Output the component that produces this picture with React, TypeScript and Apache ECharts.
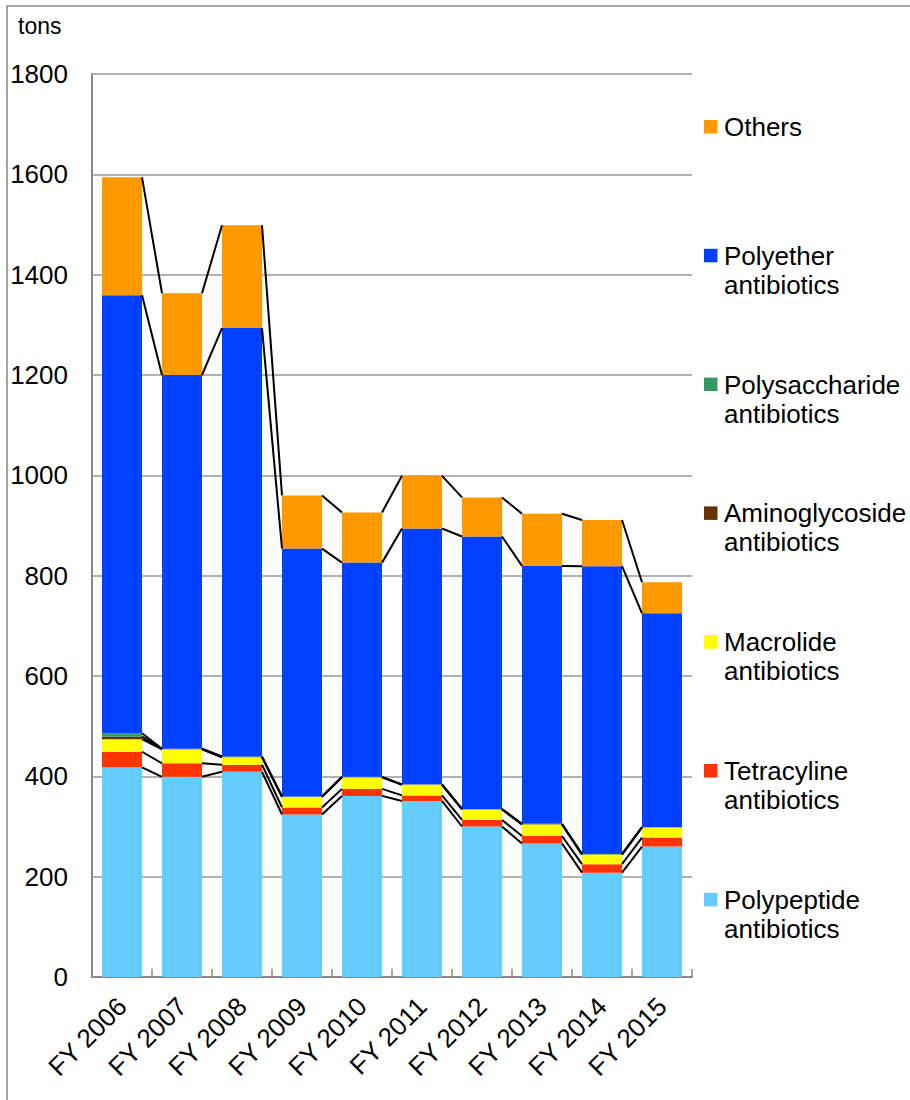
import React, { useEffect, useRef } from "react";
import * as echarts from "echarts";

const categories = ["FY 2006", "FY 2007", "FY 2008", "FY 2009", "FY 2010", "FY 2011", "FY 2012", "FY 2013", "FY 2014", "FY 2015"];

const polypeptide = [418, 399, 409, 324, 361, 351, 300, 266, 208, 260];
const tetracyline = [31, 27, 14, 14, 14, 11, 13, 15, 17, 18];
const macrolide = [25, 28, 15, 21, 23, 21, 21, 23, 19, 20];
const aminoglycoside = [5, 0.5, 0.5, 0.5, 0.5, 0.5, 0.5, 0.5, 0.5, 0.5];
const polysaccharide = [7, 0.5, 1, 0.5, 0.5, 0.5, 0.5, 1, 0.5, 0.5];
const polyether = [873, 745, 854, 494, 427, 510, 543, 514, 574, 426];
const others = [235, 163, 205, 106, 100, 105, 78, 104, 92, 62];

const yTicks = { min: 0, max: 1800, interval: 200 };
const unitLabel = "tons";

const seriesDefs = [
  { name: "Polypeptide\nantibiotics", data: polypeptide, color: "#66CCFF" },
  { name: "Tetracyline\nantibiotics", data: tetracyline, color: "#FF3300" },
  { name: "Macrolide\nantibiotics", data: macrolide, color: "#FFFF00" },
  { name: "Aminoglycoside\nantibiotics", data: aminoglycoside, color: "#663300" },
  { name: "Polysaccharide\nantibiotics", data: polysaccharide, color: "#339966" },
  { name: "Polyether\nantibiotics", data: polyether, color: "#0040FF" },
  { name: "Others", data: others, color: "#FF9900" },
];

const FONT = '"Liberation Sans", Arial, sans-serif';

export default function App() {
  const ref = useRef<HTMLDivElement>(null);
  useEffect(() => {
    document.body.style.margin = "0";
    const chart = echarts.init(ref.current!, undefined, { renderer: "svg" });

    const cum: number[][] = [];
    seriesDefs.forEach((s, k) => {
      cum.push(s.data.map((v, i) => (k === 0 ? 0 : cum[k - 1][i]) + v));
    });

    const bars = seriesDefs.map((s) => ({
      type: "bar",
      name: s.name,
      stack: "total",
      data: s.data,
      barWidth: "66.67%",
      itemStyle: { color: s.color },
      emphasis: { disabled: true },
    }));

    const seriesLines = {
      type: "custom",
      name: "series lines",
      coordinateSystem: "cartesian2d",
      data: categories.slice(0, -1).map((_, i) => [i, 0]),
      encode: { x: 0, y: 1 },
      silent: true,
      z: 5,
      renderItem: (params: any, api: any) => {
        const i = api.value(0);
        const band = api.size([1, 0])[0];
        const half = (band * 0.6667) / 2;
        const children = cum.map((lv) => {
          const a = api.coord([i, lv[i]]);
          const b = api.coord([i + 1, lv[i + 1]]);
          return {
            type: "line",
            shape: { x1: a[0] + half, y1: a[1], x2: b[0] - half, y2: b[1] },
            style: { stroke: "#000", lineWidth: 2 },
          };
        });
        return { type: "group", children };
      },
    };

    const legendItems: any[] = [];
    const order = [...seriesDefs].reverse();
    order.forEach((s, k) => {
      const cy = 127 + k * 128.8;
      legendItems.push({
        type: "rect",
        shape: { x: 704, y: cy - 7, width: 13.5, height: 13.5 },
        style: { fill: s.color },
      });
      legendItems.push({
        type: "text",
        x: 724,
        y: cy - 14.5,
        style: {
          text: s.name,
          font: `26px ${FONT}`,
          fill: "#000",
          lineHeight: 29,
          verticalAlign: "top",
          align: "left",
        },
      });
    });

    chart.setOption({
      animation: false,
      grid: { left: 92, top: 74, right: 218, bottom: 123, containLabel: false },
      xAxis: {
        type: "category",
        data: categories,
        axisLine: { lineStyle: { color: "#888", width: 2 } },
        axisTick: { show: true, inside: true, length: 8, lineStyle: { color: "#888", width: 1.5 } },
        axisLabel: {
          interval: 0,
          rotate: 45,
          margin: 25,
          color: "#000",
          fontSize: 26,
          fontFamily: FONT,
        },
      },
      yAxis: {
        type: "value",
        min: yTicks.min,
        max: yTicks.max,
        interval: yTicks.interval,
        axisLine: { show: true, lineStyle: { color: "#888", width: 2 } },
        axisTick: { show: false },
        splitLine: { lineStyle: { color: "#999", width: 1.5 } },
        axisLabel: {
          margin: 24,
          color: "#000",
          fontSize: 26,
          fontFamily: FONT,
          formatter: (v: number) => String(v),
        },
      },
      series: [...bars, seriesLines],
      graphic: [
        {
          type: "polyline",
          shape: { points: [[7, 1100], [7, 6], [910, 6]] },
          style: { stroke: "#888", lineWidth: 1.5, fill: "none" },
        },
        {
          type: "text",
          x: 18,
          y: 26,
          style: {
            text: unitLabel,
            font: `23px ${FONT}`,
            fill: "#000",
            verticalAlign: "middle",
          },
        },
        ...legendItems,
      ],
    });
    return () => chart.dispose();
  }, []);
  return <div ref={ref} style={{ width: 910, height: 1100 }} />;
}
